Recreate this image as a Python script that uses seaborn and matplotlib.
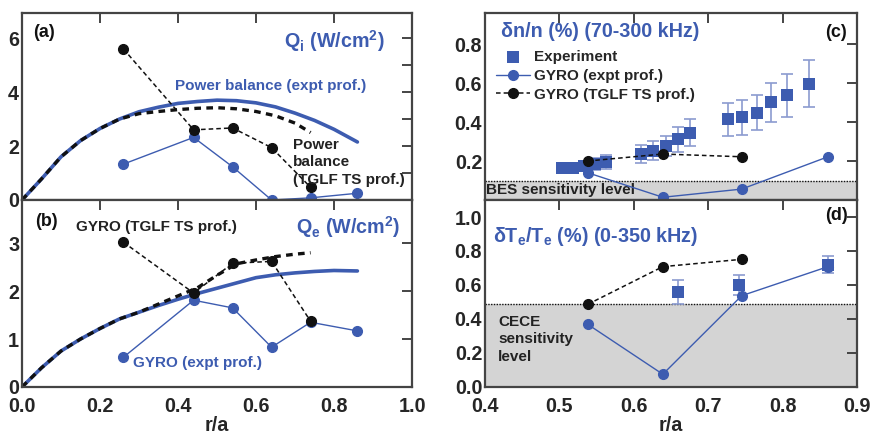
import matplotlib
matplotlib.use("Agg")
import matplotlib.pyplot as plt
from matplotlib import font_manager
import seaborn as sns
import pandas as pd

# ---------------- data ----------------
# panel (a) Qi
pb_a_x = [0, 0.05, 0.1, 0.15, 0.2, 0.25, 0.3, 0.35, 0.4, 0.45, 0.5, 0.55, 0.6, 0.65, 0.7, 0.75, 0.8, 0.86]
pb_a_expt = [0, 0.78, 1.6, 2.2, 2.65, 3.0, 3.27, 3.44, 3.58, 3.65, 3.7, 3.68, 3.6, 3.45, 3.22, 2.95, 2.62, 2.15]
pb_a_ts_x = [0, 0.05, 0.1, 0.15, 0.2, 0.25, 0.3, 0.35, 0.4, 0.45, 0.5, 0.55, 0.6, 0.65, 0.7, 0.74]
pb_a_ts = [0, 0.78, 1.6, 2.2, 2.65, 3.0, 3.2, 3.28, 3.35, 3.4, 3.42, 3.38, 3.28, 3.12, 2.85, 2.5]
gyro_x = [0.26, 0.44, 0.54, 0.64, 0.74, 0.86]
gyro_a_expt = [1.33, 2.32, 1.23, 0.0, 0.08, 0.25]
gyro_ts_x = [0.26, 0.44, 0.54, 0.64, 0.74]
gyro_a_ts = [5.6, 2.6, 2.67, 1.94, 0.47]

# panel (b) Qe
pb_b_x = [0, 0.05, 0.1, 0.15, 0.2, 0.25, 0.3, 0.35, 0.4, 0.45, 0.5, 0.55, 0.6, 0.65, 0.7, 0.75, 0.8, 0.86]
pb_b_expt = [0, 0.4, 0.75, 1.0, 1.22, 1.42, 1.56, 1.7, 1.83, 1.95, 2.06, 2.17, 2.28, 2.34, 2.38, 2.41, 2.43, 2.42]
pb_b_ts_x = [0, 0.05, 0.1, 0.15, 0.2, 0.25, 0.3, 0.35, 0.4, 0.45, 0.5, 0.55, 0.6, 0.65, 0.7, 0.74]
pb_b_ts = [0, 0.4, 0.75, 1.0, 1.22, 1.42, 1.56, 1.73, 1.9, 2.07, 2.33, 2.57, 2.65, 2.72, 2.77, 2.8]
gyro_b_expt = [0.62, 1.81, 1.65, 0.83, 1.35, 1.17]
gyro_b_ts = [3.02, 1.96, 2.58, 2.62, 1.37]

# panel (c) dn/n
exp_c_x = [0.503, 0.518, 0.533, 0.548, 0.562, 0.61, 0.626, 0.643, 0.659, 0.676, 0.727, 0.745, 0.765, 0.784, 0.806, 0.835]
exp_c_y = [0.164, 0.164, 0.172, 0.185, 0.195, 0.236, 0.253, 0.277, 0.311, 0.345, 0.414, 0.424, 0.448, 0.501, 0.538, 0.598]
exp_c_err = [0.025, 0.025, 0.025, 0.03, 0.035, 0.047, 0.05, 0.052, 0.064, 0.07, 0.083, 0.088, 0.09, 0.1, 0.11, 0.12]
sim_x = [0.538, 0.639, 0.745, 0.861]
sim_ts_x = [0.538, 0.639, 0.745]
gyro_c_expt = [0.14, 0.014, 0.056, 0.222]
gyro_c_ts = [0.2, 0.236, 0.222]
bes_level = 0.1

# panel (d) dTe/Te
exp_d_x = [0.659, 0.742, 0.861]
exp_d_y = [0.557, 0.6, 0.718]
exp_d_err = [0.07, 0.06, 0.05]
gyro_d_expt = [0.369, 0.075, 0.537, 0.708]
gyro_d_ts = [0.486, 0.708, 0.751]
cece_level = 0.49

# ---------------- style ----------------
sns.set_theme(style="white")
_names = {f.name for f in font_manager.fontManager.ttflist}
NARROW = "Liberation Sans Narrow" in _names
FONT = "Liberation Sans Narrow" if NARROW else "Liberation Sans"
plt.rcParams["font.family"] = [FONT, "DejaVu Sans"]
plt.rcParams["font.weight"] = "bold"
plt.rcParams["mathtext.fontset"] = "custom"
plt.rcParams["mathtext.rm"] = FONT + ":bold"
plt.rcParams["mathtext.it"] = FONT + ":bold"
plt.rcParams["mathtext.bf"] = FONT + ":bold"
plt.rcParams["mathtext.default"] = "regular"

k = 1.0 if NARROW else 0.86   # size factor to keep text widths like the reference
TICK = 16.5 * k
TS = 12.8 * k
BIG = 16.5 * k
LAB = 15 * k

BLUE = "#3d5cb0"
ERRC = "#8b9bd0"
BLACK = "#111111"
SPINE = "#444444"

fig = plt.figure(figsize=(8.73, 4.33), dpi=100)
W, H = 873.0, 433.0


def mk(l, t, r, b):
    return fig.add_axes([l / W, 1 - b / H, (r - l) / W, (b - t) / H])


ax_a = mk(22, 13, 412, 200)
ax_b = mk(22, 200, 412, 387)
ax_c = mk(485, 13, 857, 200)
ax_d = mk(485, 200, 857, 387)


def style(ax):
    for s in ax.spines.values():
        s.set_color(SPINE)
        s.set_linewidth(1.6)
    ax.tick_params(direction="in", length=7, width=1.4, color=SPINE,
                   top=True, right=True, labelsize=TICK)
    ax.tick_params(axis="y", pad=2)
    ax.tick_params(axis="x", pad=7)
    ax.tick_params(which="minor", direction="in", length=7, width=1.4,
                   color=SPINE, top=True, right=True)
    for lab in ax.get_xticklabels() + ax.get_yticklabels():
        lab.set_fontweight("bold")


# ---- panel (a)
sns.lineplot(x=pb_a_x, y=pb_a_expt, ax=ax_a, color=BLUE, lw=2.6)
sns.lineplot(x=pb_a_ts_x, y=pb_a_ts, ax=ax_a, color=BLACK, lw=2.4,
             linestyle=(0, (2.0, 1.6)))
ax_a.plot(gyro_x, gyro_a_expt, color=BLUE, lw=1.0, marker="o", ms=7)
ax_a.plot(gyro_ts_x, gyro_a_ts, color=BLACK, lw=1.1, ls=(0, (3, 2)), marker="o", ms=7)
ax_a.set_xlim(0, 1.0)
ax_a.set_ylim(0, 6.93)
ax_a.set_yticks([0, 2, 4, 6])
ax_a.set_yticks([1, 3, 5], minor=True)
ax_a.set_xticks([0, 0.2, 0.4, 0.6, 0.8, 1.0])
ax_a.set_xticklabels([])
ax_a.set_yticklabels(["0", "2", "4", "6"])
ax_a.text(0.028, 6.2, "(a)", fontsize=LAB, fontweight="bold", color=BLACK, va="center")
ax_a.text(0.80, 5.9, r"Q$_\mathregular{i}$ (W/cm$^\mathregular{2}$)", fontsize=BIG,
          fontweight="bold", color=BLUE, ha="center", va="center")
ax_a.text(0.392, 4.22, "Power balance (expt prof.)", fontsize=TS, fontweight="bold",
          color=BLUE, va="center")
ax_a.text(0.695, 1.4, "Power\nbalance\n(TGLF TS prof.)", fontsize=TS, fontweight="bold",
          color="#222222", va="center", linespacing=1.3)

# ---- panel (b)
sns.lineplot(x=pb_b_x, y=pb_b_expt, ax=ax_b, color=BLUE, lw=2.6)
sns.lineplot(x=pb_b_ts_x, y=pb_b_ts, ax=ax_b, color=BLACK, lw=2.4,
             linestyle=(0, (2.0, 1.6)))
ax_b.plot(gyro_x, gyro_b_expt, color=BLUE, lw=1.0, marker="o", ms=7)
ax_b.plot(gyro_ts_x, gyro_b_ts, color=BLACK, lw=1.1, ls=(0, (3, 2)), marker="o", ms=7)
ax_b.set_xlim(0, 1.0)
ax_b.set_ylim(0, 3.9)
ax_b.set_yticks([0, 1, 2, 3])
ax_b.set_yticklabels(["0", "1", "2", "3"])
ax_b.set_xticks([0, 0.2, 0.4, 0.6, 0.8, 1.0])
ax_b.set_xticklabels(["0.0", "0.2", "0.4", "0.6", "0.8", "1.0"])
ax_b.text(0.033, 3.46, "(b)", fontsize=LAB, fontweight="bold", color=BLACK, va="center")
ax_b.text(0.138, 3.33, "GYRO (TGLF TS prof.)", fontsize=TS, fontweight="bold",
          color="#222222", va="center")
ax_b.text(0.836, 3.33, r"Q$_\mathregular{e}$ (W/cm$^\mathregular{2}$)", fontsize=BIG,
          fontweight="bold", color=BLUE, ha="center", va="center")
ax_b.text(0.285, 0.5, "GYRO (expt prof.)", fontsize=TS, fontweight="bold",
          color=BLUE, va="center")

# ---- panel (c)
ax_c.axhspan(0, bes_level, color="#d4d4d4", zorder=0, lw=0)
ax_c.axhline(bes_level, color=BLACK, lw=1.0, ls=(0, (1, 1)), zorder=1)
ax_c.errorbar(exp_c_x, exp_c_y, yerr=exp_c_err, fmt="none", ecolor=ERRC,
              elinewidth=1.2, capsize=4, capthick=1.2, zorder=2)
df_c = pd.DataFrame({"x": exp_c_x, "y": exp_c_y})
sns.scatterplot(data=df_c, x="x", y="y", ax=ax_c, marker="s", s=70, color=BLUE,
                edgecolor=BLUE, linewidth=0, zorder=3, label="Experiment")
ax_c.plot(sim_x, gyro_c_expt, color=BLUE, lw=1.0, marker="o", ms=7, zorder=4,
          label="GYRO (expt prof.)")
ax_c.plot(sim_ts_x, gyro_c_ts, color=BLACK, lw=1.1, ls=(0, (3, 2)), marker="o", ms=7,
          zorder=4, label="GYRO (TGLF TS prof.)")
ax_c.set_xlim(0.4, 0.9)
ax_c.set_ylim(0, 0.96)
ax_c.set_yticks([0.2, 0.4, 0.6, 0.8])
ax_c.set_yticklabels(["0.2", "0.4", "0.6", "0.8"])
ax_c.set_xticks([0.4, 0.5, 0.6, 0.7, 0.8, 0.9])
ax_c.set_xticklabels([])
leg = ax_c.legend(loc="upper left", bbox_to_anchor=(0.03, 0.80), frameon=False,
                  fontsize=TS, handlelength=2.2, handletextpad=0.3, labelspacing=0.3,
                  borderaxespad=0, borderpad=0)
for t in leg.get_texts():
    t.set_fontweight("bold")
ax_c.text(0.4215, 0.863, "δn/n (%) (70-300 kHz)", fontsize=BIG, fontweight="bold",
          color=BLUE, va="center")
ax_c.text(0.886, 0.86, "(c)", fontsize=LAB, fontweight="bold", color=BLACK,
          ha="right", va="center")
ax_c.text(0.402, 0.05, "BES sensitivity level", fontsize=TS, fontweight="bold",
          color="#222222", va="center")

# ---- panel (d)
ax_d.axhspan(0, cece_level, color="#d4d4d4", zorder=0, lw=0)
ax_d.axhline(cece_level, color=BLACK, lw=1.0, ls=(0, (1, 1)), zorder=1)
ax_d.errorbar(exp_d_x, exp_d_y, yerr=exp_d_err, fmt="none", ecolor=ERRC,
              elinewidth=1.2, capsize=4, capthick=1.2, zorder=2)
df_d = pd.DataFrame({"x": exp_d_x, "y": exp_d_y})
sns.scatterplot(data=df_d, x="x", y="y", ax=ax_d, marker="s", s=70, color=BLUE,
                edgecolor=BLUE, linewidth=0, zorder=3, legend=False)
ax_d.plot(sim_x, gyro_d_expt, color=BLUE, lw=1.0, marker="o", ms=7, zorder=4)
ax_d.plot(sim_ts_x, gyro_d_ts, color=BLACK, lw=1.1, ls=(0, (3, 2)), marker="o", ms=7,
          zorder=4)
ax_d.set_xlim(0.4, 0.9)
ax_d.set_ylim(0, 1.1)
ax_d.set_yticks([0.0, 0.2, 0.4, 0.6, 0.8, 1.0])
ax_d.set_yticklabels(["0.0", "0.2", "0.4", "0.6", "0.8", "1.0"])
ax_d.set_xticks([0.4, 0.5, 0.6, 0.7, 0.8, 0.9])
ax_d.set_xticklabels(["0.4", "0.5", "0.6", "0.7", "0.8", "0.9"])
ax_d.text(0.411, 0.884, r"δT$_\mathregular{e}$/T$_\mathregular{e}$ (%) (0-350 kHz)",
          fontsize=BIG, fontweight="bold", color=BLUE, va="center")
ax_d.text(0.888, 1.01, "(d)", fontsize=LAB, fontweight="bold", color=BLACK,
          ha="right", va="center")
ax_d.text(0.4175, 0.28, "CECE\nsensitivity\nlevel", fontsize=TS, fontweight="bold",
          color="#222222", va="center", linespacing=1.3)

for ax in (ax_a, ax_b, ax_c, ax_d):
    ax.set_ylabel("")
    ax.set_xlabel("")
    style(ax)
ax_b.set_xlabel("r/a", fontsize=TICK, fontweight="bold", labelpad=0)
ax_d.set_xlabel("r/a", fontsize=TICK, fontweight="bold", labelpad=0)

fig.savefig("out.png", dpi=100)
